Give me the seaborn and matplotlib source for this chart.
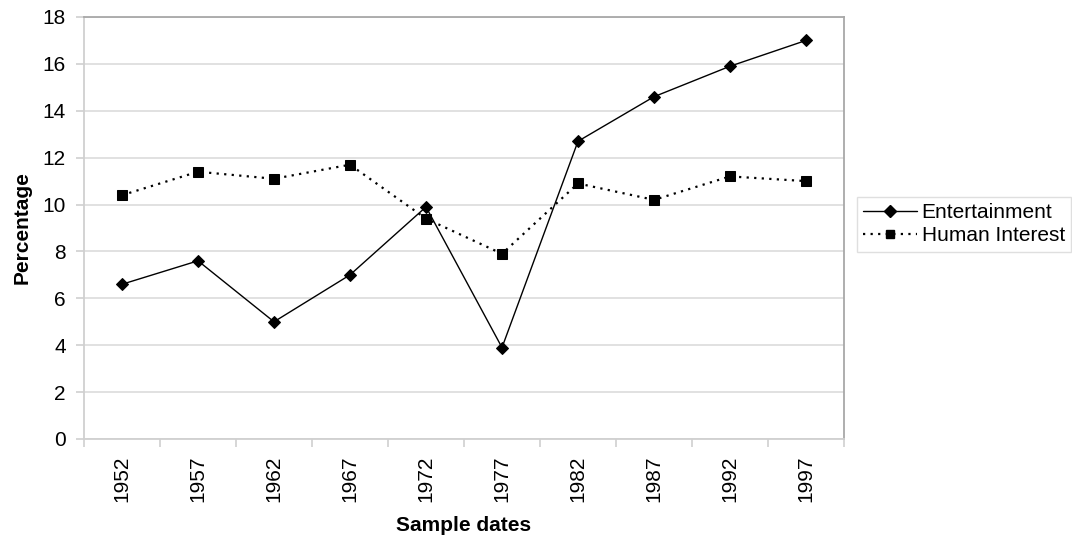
import matplotlib
matplotlib.use("Agg")
import matplotlib.pyplot as plt
import seaborn as sns
import pandas as pd
import numpy as np
from matplotlib.lines import Line2D

# Share of coverage by topic across sample years
years = ["1952", "1957", "1962", "1967", "1972", "1977", "1982", "1987", "1992", "1997"]
entertainment = [6.6, 7.6, 5.0, 7.0, 9.9, 3.9, 12.7, 14.6, 15.9, 17.0]
human_interest = [10.4, 11.4, 11.1, 11.7, 9.4, 7.9, 10.9, 10.2, 11.2, 11.0]

sns.set_theme(style="white")
plt.rcParams["font.family"] = ["Liberation Sans", "DejaVu Sans"]
plt.rcParams["text.color"] = "black"
plt.rcParams["axes.labelcolor"] = "black"

FS = 15

df = pd.DataFrame({
    "pos": np.arange(len(years)),
    "Entertainment": entertainment,
    "Human Interest": human_interest,
})

fig = plt.figure(figsize=(10.72, 5.36), dpi=100)
ax = fig.add_axes([84 / 1072, 1 - 439 / 536, 760 / 1072, 422 / 536])

sns.lineplot(data=df, x="pos", y="Entertainment", ax=ax, color="black",
             linewidth=1.0, marker="D", markersize=6.5, markeredgecolor="black",
             markerfacecolor="black")
sns.lineplot(data=df, x="pos", y="Human Interest", ax=ax, color="black",
             linewidth=1.6, linestyle=(0, (1, 2.4)), marker="s", markersize=7,
             markeredgecolor="black", markerfacecolor="black")

ax.set_xlim(-0.5, len(years) - 0.5)
ax.set_ylim(0, 18)
ax.set_yticks(np.arange(0, 19, 2))
ax.yaxis.grid(True, color="#dcdcdc", linewidth=1.2)
ax.xaxis.grid(False)
ax.set_axisbelow(True)

# category boundaries get tick marks, centres get the year labels
ax.set_xticks(np.arange(-0.5, len(years), 1.0))
ax.set_xticklabels([])
ax.set_xticks(np.arange(len(years)), minor=True)
ax.set_xticklabels(years, minor=True, rotation=90, fontsize=FS, va="top")
ax.tick_params(axis="x", which="major", length=6, width=1.2, color="#d0d0d0",
               direction="out", bottom=True)
ax.tick_params(axis="x", which="minor", length=0, pad=12, labelcolor="black")
ax.tick_params(axis="y", length=6, width=1.2, color="#d0d0d0", direction="out",
               left=True, labelsize=FS, pad=7, labelcolor="black")

for side in ("left", "bottom"):
    ax.spines[side].set_color("#d0d0d0")
    ax.spines[side].set_linewidth(1.3)
for side in ("top", "right"):
    ax.spines[side].set_visible(True)
    ax.spines[side].set_color("#a8a8a8")
    ax.spines[side].set_linewidth(1.3)

ax.set_xlabel("Sample dates", fontsize=FS, fontweight="bold", labelpad=10)
ax.set_ylabel("Percentage", fontsize=FS, fontweight="bold", labelpad=8)

handles = [
    Line2D([], [], color="black", linewidth=1.0, marker="D", markersize=6),
    Line2D([], [], color="black", linewidth=1.6, linestyle=(0, (1, 2.4)),
           marker="s", markersize=6),
]
leg = fig.legend(handles, ["Entertainment", "Human Interest"],
                 loc="upper left", bbox_to_anchor=(857 / 1072, 1 - 197 / 536),
                 fontsize=FS, frameon=True, fancybox=False, handlelength=2.6,
                 handletextpad=0.2, borderpad=0.3, labelspacing=0.2,
                 borderaxespad=0)
leg.get_frame().set_edgecolor("#d8d8d8")
leg.get_frame().set_linewidth(1.0)

fig.savefig("out.png", dpi=100)
